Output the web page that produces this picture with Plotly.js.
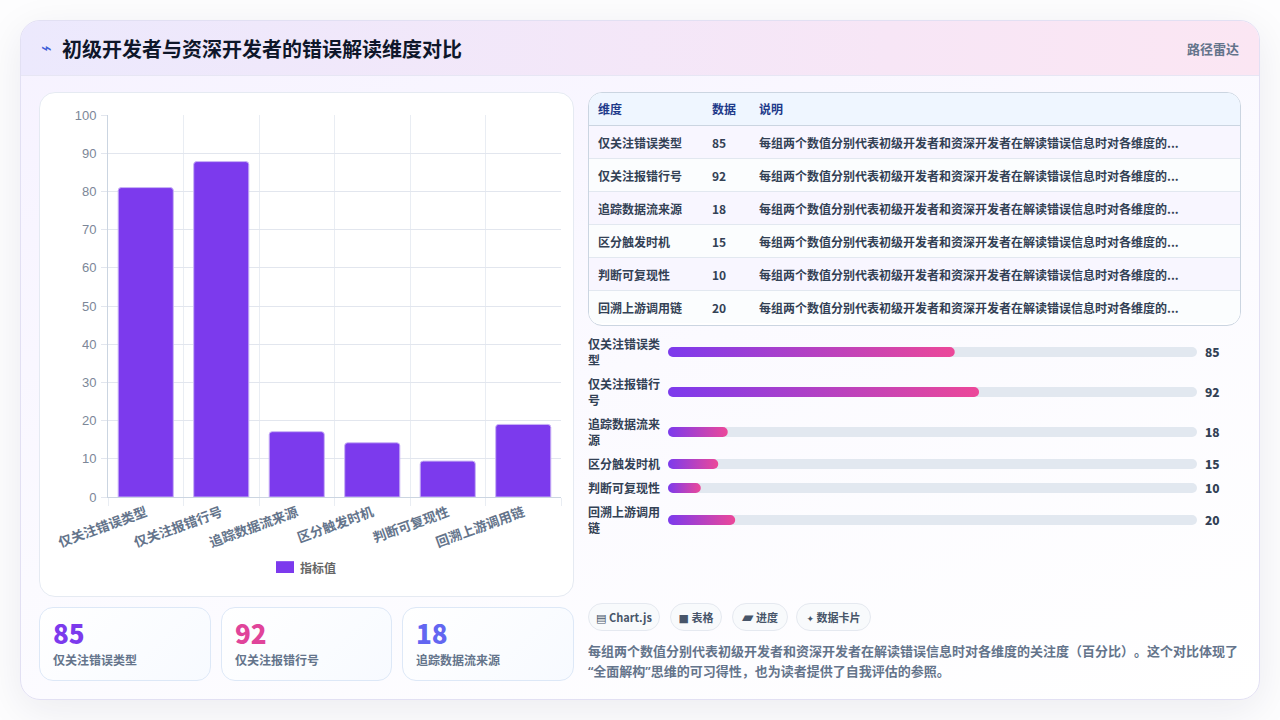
<!DOCTYPE html>
<html lang="zh">
<head>
<meta charset="utf-8">
<title>初级开发者与资深开发者的错误解读维度对比</title>
<script src="https://cdn.plot.ly/plotly-3.0.1.min.js"></script>
<style>
  * { box-sizing: border-box; }
  html, body { margin: 0; width: 1280px; height: 720px; overflow: hidden; background: #fdfdfe; }
  body { font-family: "Noto Sans CJK SC", "Noto Sans", sans-serif; color: #334155; position: relative; text-spacing-trim: space-all; }
  .page { position: absolute; left: 20px; top: 20px; width: 1240px; height: 680px; border-radius: 20px; border: 1px solid #e2e0f3;
    background: linear-gradient(160deg, #f6f2ff 0%, #fbfaff 50%, #ffffff 100%); box-shadow: 0 10px 40px rgba(30, 30, 60, .08); overflow: hidden; }
  .head { position: absolute; left: 0; top: 0; width: 100%; height: 55px; border-bottom: 1px solid #e7e6f4;
    background: linear-gradient(90deg, #ece9fd 0%, #f7e6f6 70%, #fbe6f3 100%); }
  .head .bolt { position: absolute; left: 20px; top: 17px; font-family: "DejaVu Sans", sans-serif; font-size: 18px; color: #3f5fd8; line-height: 20px; }
  .head h1 { position: absolute; left: 41px; top: 13px; margin: 0; font-size: 20px; line-height: 30px; font-weight: 700; color: #0f172a; }
  .head .tag { position: absolute; right: 20px; top: 18px; font-size: 13px; line-height: 20px; font-weight: 600; color: #64748b; }
  .panel { position: absolute; left: 18px; top: 71px; width: 535px; height: 505px; background: #fff; border: 1px solid #e5eaf2; border-radius: 16px; }
  #barChart { position: absolute; left: 0; top: 0; width: 533px; height: 503px; }
  .kpi { position: absolute; top: 586px; height: 74px; border: 1px solid #dde8f7; border-radius: 14px; background: linear-gradient(135deg, #ffffff, #f7faff); }
  .kpi b { position: absolute; left: 13px; top: 8px; font-size: 26px; line-height: 33px; font-weight: 900; }
  .kpi span { position: absolute; left: 13px; top: 43px; font-size: 12px; line-height: 18px; color: #64748b; font-weight: 600; }
  .tbl { position: absolute; left: 567px; top: 71px; width: 653px; height: 234px; border: 1px solid #cbd5e1; border-radius: 14px; overflow: hidden; background: #fff; }
  .tbl table { width: 100%; border-collapse: collapse; font-size: 12px; table-layout: fixed; }
  .tbl th { height: 32px; text-align: left; background: #eff6ff; color: #1e3a8a; font-weight: 600; padding: 0 0 0 9px; border-bottom: 1px solid #cbd5e1; }
  .tbl td { height: 33px; padding: 1px 0 0 9px; font-weight: 600; color: #334155; border-bottom: 1px solid #e2e8f0; white-space: nowrap; }
  .tbl tr:last-child td { border-bottom: 0; }
  .tbl tbody tr:nth-child(odd) td { background: #f8f6ff; }
  .tbl tbody tr:nth-child(even) td { background: #fbfdfe; }
  #progressChart { position: absolute; left: 566px; top: 309px; width: 654px; height: 210px; }
  .chips { position: absolute; left: 567px; top: 582px; height: 28px; }
  .chip { position: absolute; top: 0; height: 28px; line-height: 26px; border: 1px solid #e5e9f0; border-radius: 14px; background: #f8fafc; font-size: 11px; font-weight: 700; color: #475569; text-align: center; white-space: nowrap; }
  .chip i { font-family: "DejaVu Sans", sans-serif; font-style: normal; font-weight: 400; }
  .note { position: absolute; left: 567px; top: 620px; width: 654px; margin: 0; font-family: "Noto Sans", "Noto Sans CJK SC", sans-serif; font-size: 13px; line-height: 20px; font-weight: 600; color: #64748b; }
</style>
</head>
<body>
<div class="page">
  <div class="head">
    <span class="bolt">⌁</span>
    <h1 id="title"></h1>
    <span class="tag" id="tag"></span>
  </div>
  <div class="panel"><div id="barChart"></div></div>
  <div id="kpis"></div>
  <div class="tbl"><table id="table"></table></div>
  <div id="progressChart"></div>
  <div class="chips" id="chips"></div>
  <p class="note" id="note"></p>
</div>

<script>
var titleText = "初级开发者与资深开发者的错误解读维度对比"
var tagText = "路径雷达"
var categories = ["仅关注错误类型", "仅关注报错行号", "追踪数据流来源", "区分触发时机", "判断可复现性", "回溯上游调用链"]
var tableValues = [85, 92, 18, 15, 10, 20]
// heights and fill lengths as they stand in the picture
var barValues = [81, 87.8, 17.1, 14.2, 9.4, 19]
var progressFill = [54.2, 58.8, 11.3, 9.5, 6.2, 12.7]
var progressLabels = ["仅关注错误类<br>型", "仅关注报错行<br>号", "追踪数据流来<br>源", "区分触发时机", "判断可复现性", "回溯上游调用<br>链"]
var seriesName = "指标值"
var tableHead = ["维度", "数据", "说明"]
var rowNote = "每组两个数值分别代表初级开发者和资深开发者在解读错误信息时对各维度的..."
var yTicks = [0, 10, 20, 30, 40, 50, 60, 70, 80, 90, 100]
var chipIcons = ["▤", "■", "▰", "✦"]
var chipIconSizes = [11, 11, 15, 9]
var chipTexts = ["Chart.js", "表格", "进度", "数据卡片"]
var noteLines = "每组两个数值分别代表初级开发者和资深开发者在解读错误信息时对各维度的关注度（百分比）。这个对比体现了“全面解构”思维的可习得性，也为读者提供了自我评估的参照。"

var purple = "#7c3aed"
var pink = "#ec4899"
var cjk = '"Noto Sans CJK SC", "Noto Sans", sans-serif'

document.getElementById("title").textContent = titleText
document.getElementById("tag").textContent = tagText
document.getElementById("note").textContent = noteLines

// kpi cards
var kpiLeft = [18, 200, 381]
var kpiWidth = [172, 171, 172]
var kpiColor = [purple, "#e0449a", "#6366f1"]
var kpiHtml = ""
for (var i = 0; i < 3; i++) {
  kpiHtml += '<div class="kpi" style="left:' + kpiLeft[i] + 'px;width:' + kpiWidth[i] + 'px"><b style="color:' + kpiColor[i] + '">' + tableValues[i] + '</b><span>' + categories[i] + '</span></div>'
}
document.getElementById("kpis").innerHTML = kpiHtml

// table
var t = '<colgroup><col style="width:114px"><col style="width:47px"><col></colgroup><thead><tr>'
tableHead.forEach(function(h) { t += "<th>" + h + "</th>" })
t += "</tr></thead><tbody>"
categories.forEach(function(c, i) {
  t += "<tr><td>" + c + "</td><td>" + tableValues[i] + "</td><td>" + rowNote + "</td></tr>"
})
document.getElementById("table").innerHTML = t + "</tbody>"

// chips
var chipLeft = [0, 82, 144, 208]
var chipWidth = [72, 52, 56, 75]
var chipHtml = ""
chipTexts.forEach(function(c, i) {
  chipHtml += '<span class="chip" style="left:' + chipLeft[i] + 'px;width:' + chipWidth[i] + 'px"><i style="font-size:' + chipIconSizes[i] + 'px">' + chipIcons[i] + '</i> ' + c + '</span>'
})
document.getElementById("chips").innerHTML = chipHtml

// main bar chart
var barTrace = {
  type: "bar",
  x: categories,
  y: barValues,
  name: seriesName,
  marker: { color: purple, line: { color: "#c9b3f5", width: 1 } },
  hoverinfo: "x+y"
}
var barLayout = {
  width: 533,
  height: 503,
  margin: { l: 68, r: 12, t: 22, b: 99 },
  paper_bgcolor: "rgba(0,0,0,0)",
  plot_bgcolor: "rgba(0,0,0,0)",
  bargap: 0.27,
  barcornerradius: 3,
  showlegend: false,
  xaxis: {
    type: "category",
    tickson: "boundaries",
    ticks: "outside",
    ticklen: 8,
    tickcolor: "#e9edf3",
    gridcolor: "#e9edf3",
    linecolor: "#cbd5e1",
    showline: true,
    tickangle: -20,
    ticklabelstandoff: 2,
    tickfont: { family: cjk, size: 13.3, color: "#64748b", weight: 700 }
  },
  yaxis: {
    range: [0, 100],
    tickvals: yTicks,
    ticks: "outside",
    ticklen: 6,
    tickcolor: "#e2e6ee",
    gridcolor: "#e2e6ee",
    linecolor: "#cbd5e1",
    showline: true,
    zeroline: false,
    ticklabelstandoff: 2,
    tickfont: { family: '"Liberation Sans", Arial, sans-serif', size: 13, color: "#7c8798" }
  },
  shapes: [{
    type: "rect", xref: "paper", yref: "paper", x0: 0.3709, x1: 0.4106, y0: -0.199, y1: -0.168,
    fillcolor: purple, line: { width: 0 }
  }],
  annotations: [{
    text: seriesName, xref: "paper", yref: "paper", x: 0.4194, y: -0.1835, xanchor: "left", yanchor: "middle",
    showarrow: false, font: { family: cjk, size: 12, color: "#666666", weight: 700 }
  }]
}
Plotly.newPlot("barChart", [barTrace], barLayout, { displayModeBar: false, responsive: false })

// progress rows, y axis is in pixels of the block so the rows can wrap unevenly
var rowCenters = [22, 62, 102, 134, 158, 190]
var trackValues = categories.map(function() { return 100 })
var trackTrace = {
  type: "bar", orientation: "h", x: trackValues, y: rowCenters, width: 10,
  marker: { color: "#e2e8f0" }, hoverinfo: "skip"
}
var fillTrace = {
  type: "bar", orientation: "h", x: progressFill, y: rowCenters, width: 10,
  marker: { color: purple }, hoverinfo: "skip"
}
var progressNotes = []
progressLabels.forEach(function(label, i) {
  progressNotes.push({
    text: label, xref: "paper", yref: "y", x: -81 / 529, y: rowCenters[i], yshift: 1, xanchor: "left", yanchor: "middle", align: "left",
    showarrow: false, borderpad: 0, font: { family: cjk, size: 12, color: "#334155", weight: 600 }
  })
  progressNotes.push({
    text: String(tableValues[i]), xref: "paper", yref: "y", x: 1 + 7 / 529, y: rowCenters[i], yshift: 1, xanchor: "left", yanchor: "middle",
    showarrow: false, borderpad: 0, font: { family: cjk, size: 12, color: "#334155", weight: 900 }
  })
})
var progressLayout = {
  width: 654,
  height: 210,
  margin: { l: 81, r: 44, t: 0, b: 0 },
  paper_bgcolor: "rgba(0,0,0,0)",
  plot_bgcolor: "rgba(0,0,0,0)",
  barmode: "overlay",
  showlegend: false,
  xaxis: { range: [0, 100], visible: false, fixedrange: true },
  yaxis: { range: [210, 0], visible: false, fixedrange: true },
  annotations: progressNotes
}
Plotly.newPlot("progressChart", [trackTrace, fillTrace], progressLayout, { displayModeBar: false, responsive: false }).then(function(gd) {
  // plotly bars only round the far end and have no gradient, so finish them on the svg
  var svg = gd.querySelector("svg.main-svg")
  var defs = svg.querySelector("defs")
  var grad = document.createElementNS("http://www.w3.org/2000/svg", "linearGradient")
  grad.setAttribute("id", "fillGrad")
  ;[[0, purple], [1, pink]].forEach(function(s) {
    var stop = document.createElementNS("http://www.w3.org/2000/svg", "stop")
    stop.setAttribute("offset", s[0])
    stop.setAttribute("stop-color", s[1])
    grad.appendChild(stop)
  })
  defs.appendChild(grad)
  var groups = gd.querySelectorAll(".barlayer .trace")
  groups.forEach(function(g, idx) {
    g.querySelectorAll("path").forEach(function(p) {
      var b = p.getBBox()
      var r = b.height / 2
      p.setAttribute("d", "M" + (b.x + r) + "," + b.y + "H" + (b.x + b.width - r) + "A" + r + "," + r + " 0 0 1 " + (b.x + b.width - r) + "," + (b.y + b.height) +
        "H" + (b.x + r) + "A" + r + "," + r + " 0 0 1 " + (b.x + r) + "," + b.y + "Z")
      if (idx == 1) p.style.fill = "url(#fillGrad)"
    })
  })
})
</script>
</body>
</html>
